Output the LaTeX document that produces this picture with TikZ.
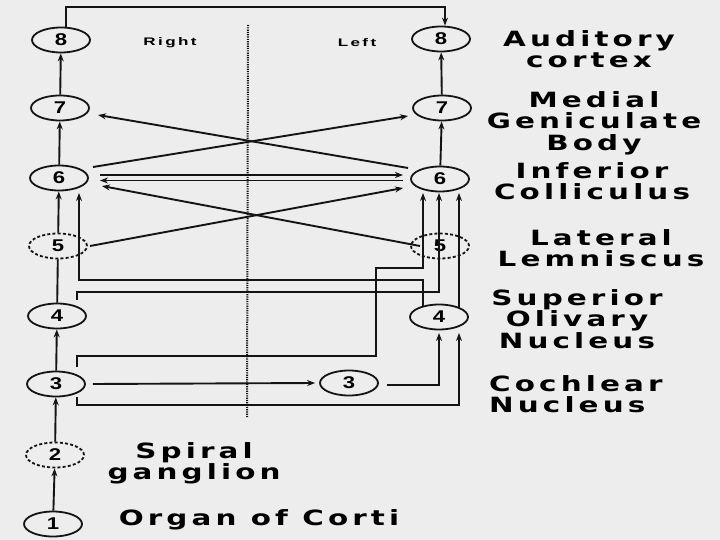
\documentclass[tikz,border=0pt]{standalone}
\usepackage{fontspec}
\setmainfont{Liberation Sans}
\newfontfamily\lblfont[LetterSpace=14]{DejaVu Sans}
\newfontfamily\smallfont[LetterSpace=14]{Liberation Sans}
\newfontfamily\numfont{Liberation Sans}
\usetikzlibrary{shapes.geometric,arrows.meta,calc}
\definecolor{bgc}{RGB}{237,237,237}
\definecolor{ink}{RGB}{20,20,20}
\newcommand\wtxt[2][c]{\scalebox{1.4}[1]{\begin{tabular}{@{}#1@{}}#2\end{tabular}}}
\newcommand\stxt[1]{\scalebox{1.55}[1]{#1}}
\newcommand\nm[1]{\scalebox{1.3}[1]{#1}}
\tikzset{
  nd/.style={ellipse, draw=ink, line width=1.8pt, minimum width=58pt, minimum height=25pt, inner sep=0pt, font=\numfont\bfseries\fontsize{17}{17}\selectfont},
  dnd/.style={nd, dash pattern=on 3pt off 2.2pt},
  lbl/.style={font=\lblfont\bfseries\fontsize{21}{20}\selectfont, inner sep=0pt},
  sml/.style={font=\smallfont\bfseries\fontsize{11}{11}\selectfont, inner sep=0pt},
  ln/.style={draw=ink, line width=1.9pt},
  arrw/.style={ln, -{Stealth[length=8pt,width=6pt]}},
}
\begin{document}
\begin{tikzpicture}[x=1pt,y=-1pt]
\useasboundingbox (0,0) rectangle (720,540);
\fill[bgc] (0,0) rectangle (720,540);
% nodes
\node[nd]  (L8) at (61,40)  {\nm{8}};
\node[nd]  (L7) at (60,108) {\nm{7}};
\node[nd]  (L6) at (59,178) {\nm{6}};
\node[dnd] (L5) at (58,246) {\nm{5}};
\node[nd]  (L4) at (57,316) {\nm{4}};
\node[nd]  (L3) at (56,384) {\nm{3}};
\node[dnd] (L2) at (55,455) {\nm{2}};
\node[nd]  (L1) at (53,524) {\nm{1}};
\node[nd]  (R8) at (441,39)  {\nm{8}};
\node[nd]  (R7) at (442,108) {\nm{7}};
\node[nd]  (R6) at (440,179) {\nm{6}};
\node[dnd] (R5) at (440,246) {\nm{5}};
\node[nd]  (R4) at (439,317) {\nm{4}};
\node[nd]  (M3) at (349,383) {\nm{3}};
% midline
\coordinate (dtop) at (248,25);
\coordinate (dbot) at (247,418);
\draw[ink, line width=2pt, dash pattern=on 1.2pt off 1.1pt] (dtop) -- (dbot);
% labels
\node[sml] (tR) at (170,43) {\stxt{Right}};
\node[sml] (tL) at (357,43) {\stxt{Left}};
\node[lbl] (t8) at (589,52) {\wtxt{Auditory\\cortex}};
\node[lbl] (t7) at (594,124) {\wtxt{Medial\\Geniculate\\Body}};
\node[lbl] (t6) at (592,184) {\wtxt{Inferior\\Colliculus}};
\node[lbl] (t5) at (601,251) {\wtxt{Lateral\\Lemniscus}};
\node[lbl] (t4) at (577,322) {\wtxt{Superior\\Olivary\\Nucleus}};
\node[lbl, anchor=west] (t3) at (489,397) {\wtxt[l]{Cochlear\\Nucleus}};
\node[lbl] (t2) at (194,464) {\wtxt{Spiral\\ganglion}};
\node[lbl] (t1) at (259,521) {\wtxt{Organ of Corti}};
% left column
\draw[arrw] (L7) -- (L8);
\draw[arrw] (L6) -- (L7);
\draw[arrw] (L5) -- (L6);
\draw[ln] (L4) -- (L5);
\draw[arrw] (L3) -- (L4);
\draw[arrw] (L2) -- (L3);
\draw[arrw] (L1) -- (L2);
% right column
\draw[arrw] (R7) -- (R8);
\draw[arrw] (R6) -- (R7);
\draw[arrw] ($(R4.center)+(20,-10)$) -- ($(R6.center)+(19,14)$);
% top connector
\draw[arrw] ($(L8.north)+(5,0)$) -- ++(0,-20) -| ($(R8.north)+(4,0)$);
% diagonals
\draw[arrw] ($(L6.center)+(34,-11)$) -- ($(R7.center)+(-34,8)$);
\draw[arrw] ($(R6.center)+(-32,-11)$) -- ($(L7.center)+(38,7)$);
\draw[arrw] ($(L6.center)+(41,-3)$) -- ($(R6.center)+(-37,-4)$);
\draw[arrw] ($(R6.center)+(-37,1.5)$) -- ($(L6.center)+(41,2.5)$);
\draw[arrw] ($(L5.center)+(32,0)$) -- ($(R6.center)+(-37,9)$);
\draw[arrw] ($(R5.center)+(-20,0)$) -- ($(L6.center)+(43,8)$);
% crossing pathways
\draw[arrw] ($(R4.center)+(-16,-11)$) |- ($(L6.center)+(20,102)$) -- ($(L6.center)+(20,15)$);
\draw[arrw] ($(L4.center)+(20,-16)$) |- ($(R6.center)+(-1,113)$) -- ($(R6.center)+(-1,14)$);
\draw[arrw] ($(L3.center)+(21,-17)$) -- ++(0,-11) -| ($(R6.center)+(-64,89)$) -| ($(R6.center)+(-17,14)$);
\draw[arrw] ($(L3.east)+(7,0)$) -- ($(M3.west)+(-4,0)$);
\draw[arrw] ($(M3.east)+(8,2)$) -| ($(R4.center)+(0,16)$);
\draw[arrw] ($(L3.center)+(21,13)$) |- ($(R4.center)+(20,88)$) -- ($(R4.center)+(20,16)$);
\end{tikzpicture}
\end{document}
